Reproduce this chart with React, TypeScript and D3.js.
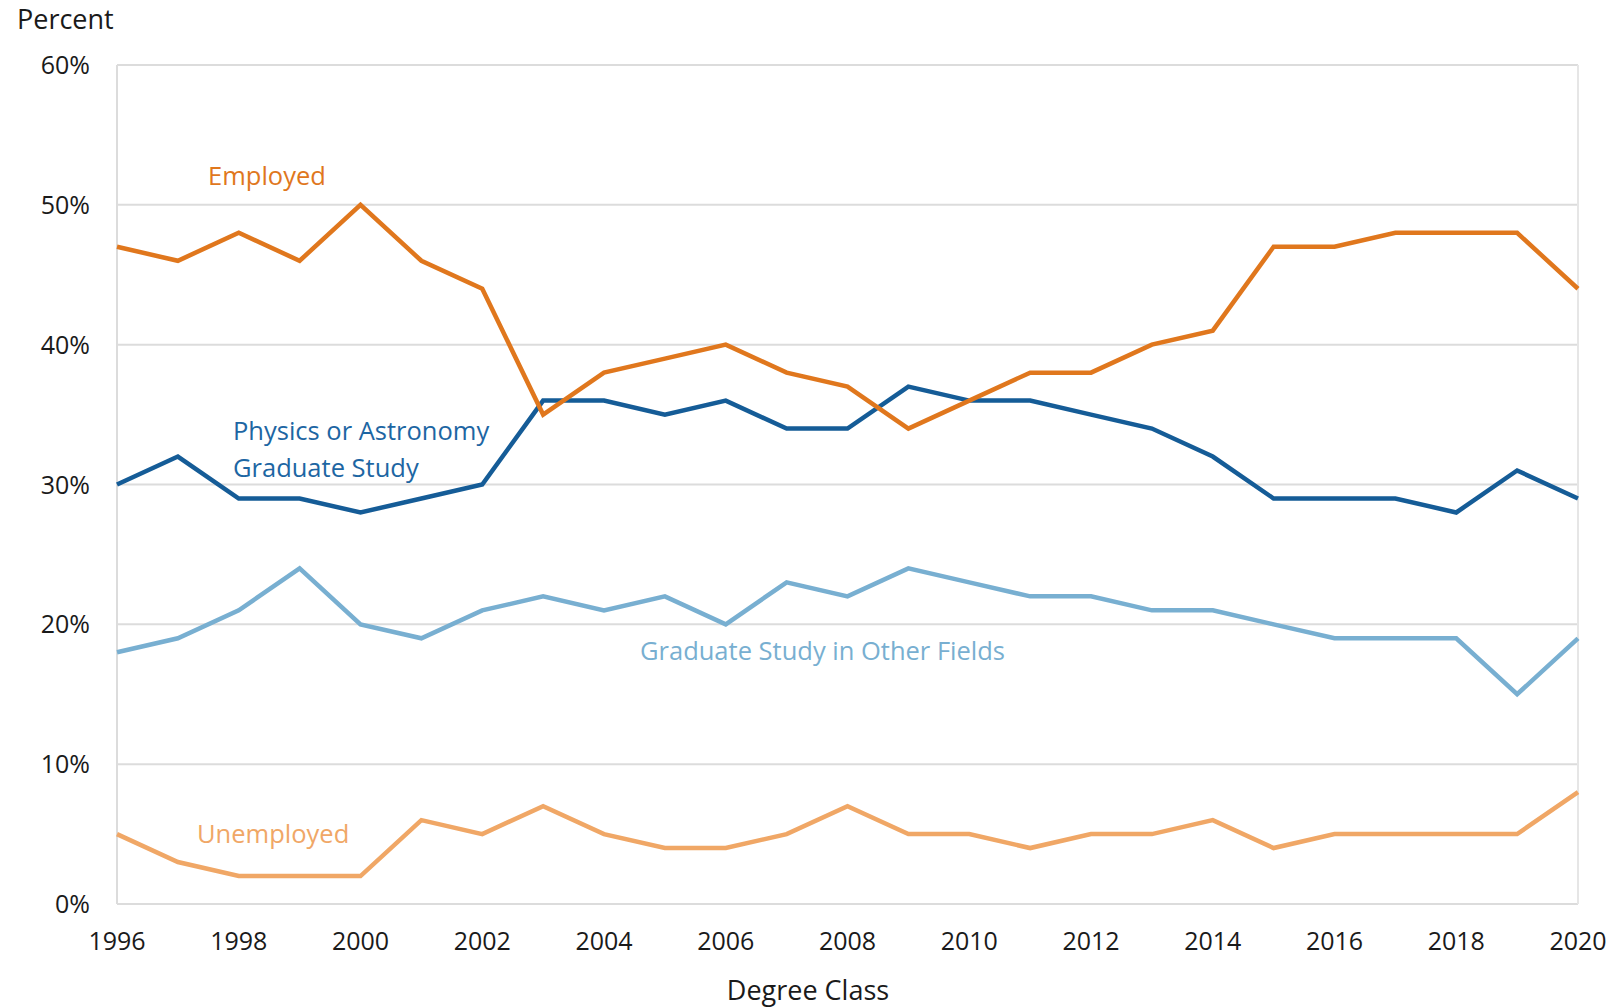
import React from "react";
import * as d3 from "d3";

const years: number[] = d3.range(1996, 2021);
const employed = [47, 46, 48, 46, 50, 46, 44, 35, 38, 39, 40, 38, 37, 34, 36, 38, 38, 40, 41, 47, 47, 48, 48, 48, 44];
const physicsGrad = [30, 32, 29, 29, 28, 29, 30, 36, 36, 35, 36, 34, 34, 37, 36, 36, 35, 34, 32, 29, 29, 29, 28, 31, 29];
const otherGrad = [18, 19, 21, 24, 20, 19, 21, 22, 21, 22, 20, 23, 22, 24, 23, 22, 22, 21, 21, 20, 19, 19, 19, 15, 19];
const unemployed = [5, 3, 2, 2, 2, 6, 5, 7, 5, 4, 4, 5, 7, 5, 5, 4, 5, 5, 6, 4, 5, 5, 5, 5, 8];
const yTicks = [0, 10, 20, 30, 40, 50, 60];
const xTicks = d3.range(1996, 2021, 2);

const FONT = "'Open Sans', sans-serif";

export default function App() {
  const W = 1610, H = 1007;
  const x = d3.scaleLinear().domain([1996, 2020]).range([117, 1578]);
  const y = d3.scaleLinear().domain([0, 60]).range([904, 65]);
  const line = d3.line<number>().x((_, i) => x(years[i])).y((d) => y(d));

  const series = [
    { vals: otherGrad, color: "#78AFD1" },
    { vals: unemployed, color: "#F0A766" },
    { vals: physicsGrad, color: "#155C97" },
    { vals: employed, color: "#E0771D" },
  ];

  return (
    <svg width={W} height={H} style={{ position: "absolute", left: 0, top: 0, background: "#fff" }} fontFamily={FONT}>
      <rect width={W} height={H} fill="#fff" />
      {yTicks.map((t) => (
        <line key={t} x1={x(1996)} x2={x(2020)} y1={y(t)} y2={y(t)} stroke="#dcdcdc" strokeWidth={2} />
      ))}
      <line x1={x(1996)} x2={x(1996)} y1={y(0)} y2={y(60)} stroke="#dcdcdc" strokeWidth={2} />
      <line x1={x(2020)} x2={x(2020)} y1={y(0)} y2={y(60)} stroke="#e6e6e6" strokeWidth={2} />
      {yTicks.map((t) => (
        <text key={t} x={90} y={y(t) + 9} textAnchor="end" fontSize={25} fill="#1a1a1a">{t}%</text>
      ))}
      {xTicks.map((t) => (
        <text key={t} x={x(t)} y={950} textAnchor="middle" fontSize={25} fill="#1a1a1a">{t}</text>
      ))}
      <text x={17} y={29} fontSize={27} fill="#1a1a1a">Percent</text>
      <text x={808} y={1000} textAnchor="middle" fontSize={27} fill="#1a1a1a">Degree Class</text>
      {series.map((s, i) => (
        <path key={i} d={line(s.vals) || ""} fill="none" stroke={s.color} strokeWidth={4.5} strokeLinejoin="miter" />
      ))}
      <text x={208} y={185} fontSize={25.5} fill="#E0771D">Employed</text>
      <text x={233} y={440} fontSize={25.5} fill="#1D66A3">Physics or Astronomy</text>
      <text x={233} y={477} fontSize={25.5} fill="#1D66A3">Graduate Study</text>
      <text x={640} y={660} fontSize={25.5} fill="#78AFD1">Graduate Study in Other Fields</text>
      <text x={197} y={843} fontSize={25.5} fill="#F0A766">Unemployed</text>
    </svg>
  );
}
